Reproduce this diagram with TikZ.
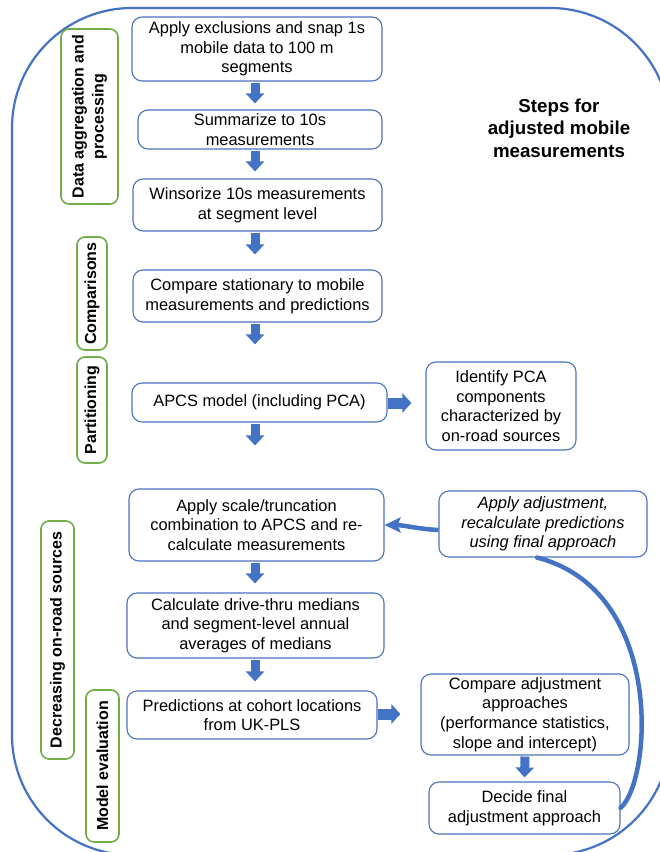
\documentclass[tikz,border=0pt]{standalone}
\usepackage{fontspec}
\setmainfont{Liberation Sans}
\usetikzlibrary{arrows.meta,calc}
\definecolor{frameblue}{HTML}{4472C4}
\definecolor{boxblue}{HTML}{4A74BE}
\definecolor{labgreen}{HTML}{70AD47}
\newcommand\bxfont{\fontsize{16.4}{19.7}\selectfont}
\newcommand\lbfont{\fontsize{16}{20}\selectfont\bfseries}
\newcommand\ttlfont{\fontsize{18.7}{22.5}\selectfont\bfseries}
\begin{document}
\begin{tikzpicture}[x=1pt,y=-1pt,
  stepbox/.style={draw=boxblue,line width=1.1pt,rounded corners=10pt,fill=white,
    align=center,inner sep=0pt,font=\bxfont},
  phase/.style={draw=labgreen,line width=1.6pt,rounded corners=8pt,fill=white,
    align=center,inner sep=0pt,rotate=90,font=\lbfont},
  blk/.style={draw=frameblue,line width=9pt,-{Triangle[width=18pt,length=10pt]}},
  blkh/.style={draw=frameblue,line width=11pt,-{Triangle[width=19pt,length=9pt]}},
  fb/.style={draw=frameblue,line width=4.5pt,line cap=round},
]
\useasboundingbox (0,0) rectangle (660,852);
\fill[white] (0,0) rectangle (660,852);
% outer frame
\draw[frameblue,line width=2.2pt,rounded corners=120pt] (12,8) rectangle (670,855);

% title
\node[align=center,font=\ttlfont] (title) at (559,128) {Steps for\\adjusted mobile\\measurements};

% main boxes
\node[stepbox,minimum width=250,minimum height=64] (b1) at (257,49)
  {Apply exclusions and snap 1s\\mobile data to 100 m\\segments};
\node[stepbox,minimum width=244,minimum height=39] (b2) at (260,129.5)
  {Summarize to 10s\\measurements};
\node[stepbox,minimum width=249,minimum height=52] (b3) at (257.5,205)
  {Winsorize 10s measurements\\at segment level};
\node[stepbox,minimum width=249,minimum height=52] (b4) at (257.5,296)
  {Compare stationary to mobile\\measurements and predictions};
\node[stepbox,minimum width=255,minimum height=39] (b5) at (259.5,402.5)
  {APCS model (including PCA)};
\node[stepbox,minimum width=150,minimum height=88] (bid) at (501,406)
  {Identify PCA\\components\\characterized by\\on-road sources};
\node[stepbox,minimum width=255,minimum height=72] (b6) at (256.5,525)
  {Apply scale/truncation\\combination to APCS and re-\\calculate measurements};
\node[stepbox,minimum width=257,minimum height=65] (b7) at (255.5,625.5)
  {Calculate drive-thru medians\\and segment-level annual\\averages of medians};
\node[stepbox,minimum width=250,minimum height=48] (b8) at (252,715)
  {Predictions at cohort locations\\from UK-PLS};
\node[stepbox,minimum width=208,minimum height=81] (bcmp) at (525,714.5)
  {Compare adjustment\\approaches\\(performance statistics,\\slope and intercept)};
\node[stepbox,minimum width=191,minimum height=52] (bdec) at (524.5,808)
  {Decide final\\adjustment approach};
\node[stepbox,minimum width=208,minimum height=66,font=\bxfont\itshape] (badj) at (543,524)
  {Apply adjustment,\\recalculate predictions\\using final approach};

% phase labels
\node[phase,minimum width=175,minimum height=57] (l1) at (89.5,116.5)
  {Data aggregation and\\processing};
\node[phase,minimum width=113,minimum height=30] (l2) at (92,293.5) {Comparisons};
\node[phase,minimum width=106,minimum height=30] (l3) at (92,410) {Partitioning};
\node[phase,minimum width=238,minimum height=33] (l4) at (57.5,640) {Decreasing on-road sources};
\node[phase,minimum width=152,minimum height=33] (l5) at (102.5,766) {Model evaluation};

% block arrows
\coordinate (ax) at (255,0);
\draw[blk] ($(b1.south -| ax)+(0,1)$) -- ($(b2.north -| ax)+(0,-6)$);
\draw[blk] ($(b2.south -| ax)+(0,1)$) -- ($(b3.north -| ax)+(0,-7)$);
\draw[blk] ($(b3.south -| ax)+(0,1)$) -- ($(b4.north -| ax)+(0,-15)$);
\draw[blk] ($(b4.south -| ax)+(0,1)$) -- ($(b5.north -| ax)+(0,-38)$);
\draw[blk] ($(b5.south -| ax)+(0,1)$) -- ($(b6.north -| ax)+(0,-43)$);
\draw[blk] ($(b6.south -| ax)+(0,1)$) -- ($(b7.north -| ax)+(0,-9)$);
\draw[blk] ($(b7.south -| ax)+(0,1)$) -- ($(b8.north -| ax)+(0,-9)$);
\draw[blk] ($(bcmp.south)+(0,1)$) -- ($(bdec.north)+(0,-4)$);
\draw[blkh] ($(b5.east)+(0,0.5)$) -- ($(bid.west |- b5.east)+(-14,0.5)$);
\draw[blkh] ($(b8.east)+(0,-1)$) -- ($(bcmp.west |- b8.east)+(-20,-1)$);

% feedback loop
\draw[fb] (bdec.east) .. controls (652,780) and (665,590) .. ($(badj.south)+(-6,0)$);
\draw[fb,line cap=butt,-{Stealth[length=16pt,width=15pt,inset=3pt]}]
  ($(badj.west)+(0,6)$) .. controls ($(badj.west)+(-20,5)$) and ($(b6.east)+(18,0)$) .. (b6.east);
\end{tikzpicture}
\end{document}
